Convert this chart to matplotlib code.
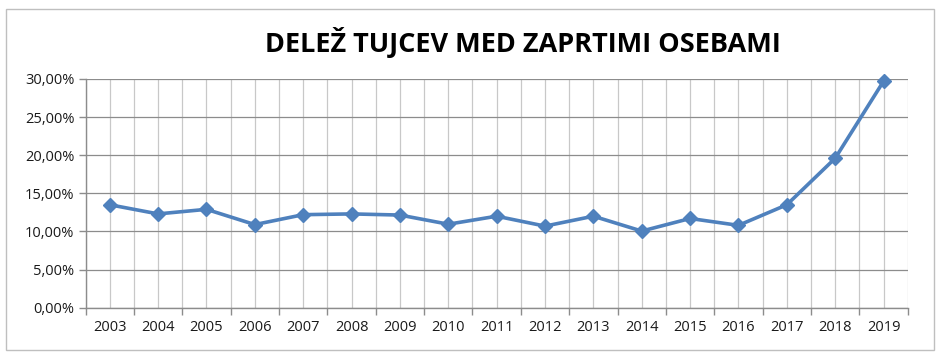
import matplotlib
matplotlib.use("Agg")
import matplotlib.pyplot as plt
from matplotlib.patches import Rectangle
from matplotlib.ticker import FuncFormatter, FixedLocator

# data
years = ["2003", "2004", "2005", "2006", "2007", "2008", "2009", "2010", "2011",
         "2012", "2013", "2014", "2015", "2016", "2017", "2018", "2019"]
share = [13.5, 12.3, 12.9, 10.9, 12.2, 12.3, 12.15, 10.95, 12.0,
         10.7, 12.0, 10.05, 11.7, 10.8, 13.5, 19.6, 29.7]
title = "DELEŽ TUJCEV MED ZAPRTIMI OSEBAMI"

plt.rcParams['font.family'] = ['Open Sans', 'DejaVu Sans']

fig = plt.figure(figsize=(9.4, 3.57), dpi=100)
ax = fig.add_axes([0.091, 0.138, 0.8747, 0.641])

x = list(range(len(years)))
ax.plot(x, share, color="#4F81BD", lw=2.6, marker="D", ms=7,
        markeredgecolor="#4F81BD", zorder=3, clip_on=False)

ax.set_xlim(-0.5, len(years) - 0.5)
ax.set_ylim(0, 30)
ax.set_yticks([0, 5, 10, 15, 20, 25, 30])
ax.yaxis.set_major_formatter(FuncFormatter(lambda v, p: f"{v:.2f}%".replace(".", ",")))

ax.set_xticks(x)
ax.set_xticklabels(years)
ax.xaxis.set_minor_locator(FixedLocator([i - 0.5 for i in range(len(years) + 1)]))
ax.tick_params(axis="x", which="major", length=0, pad=9, labelsize=10.5, labelcolor="#1a1a1a")
ax.tick_params(axis="x", which="minor", length=5, color="#8c8c8c", width=1)
ax.tick_params(axis="y", length=5, color="#8c8c8c", width=1, labelsize=10.5,
               labelcolor="#1a1a1a", pad=3)

ax.grid(axis="y", color="#8c8c8c", lw=0.9)
ax.grid(axis="x", which="both", color="#c8c8c8", lw=0.9)
ax.set_axisbelow(True)
for s in ("top", "right"):
    ax.spines[s].set_visible(False)
for s in ("left", "bottom"):
    ax.spines[s].set_color("#8c8c8c")
    ax.spines[s].set_linewidth(1)

fig.text(0.556, 0.882, title, ha="center", va="center", fontsize=19.5,
         fontweight="bold", color="black")

fig.patches.append(Rectangle((0.006, 0.02), 0.988, 0.955, transform=fig.transFigure,
                             fill=False, edgecolor="#bfbfbf", lw=1))

fig.savefig("out.png", dpi=100)
